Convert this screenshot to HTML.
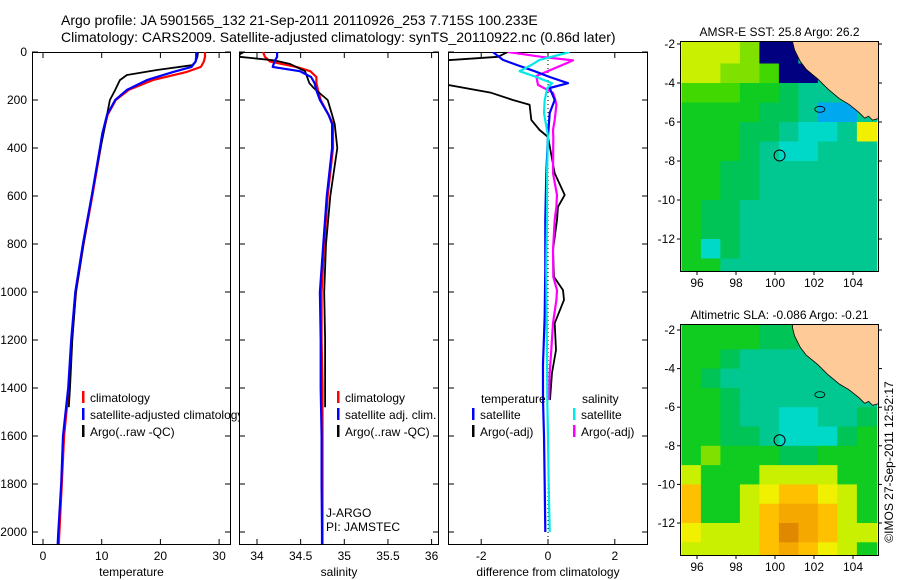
<!DOCTYPE html>
<html><head><meta charset="utf-8">
<style>
body{margin:0;background:#fff;}
svg{display:block;font-family:"Liberation Sans",sans-serif;}
</style></head>
<body>
<svg id="fig" width="900" height="580" viewBox="0 0 900 580" xmlns="http://www.w3.org/2000/svg">
<rect width="900" height="580" fill="#fff"/>
<text x="61" y="25" font-size="14">Argo profile: JA 5901565_132 21-Sep-2011 20110926_253 7.715S 100.233E</text>
<text x="61" y="42" font-size="14">Climatology: CARS2009. Satellite-adjusted climatology: synTS_20110922.nc (0.86d later)</text>
<g id="panels"></g>
<g id="maps"></g>
<text transform="translate(893,462) rotate(-90)" text-anchor="middle" font-size="12">©IMOS 27-Sep-2011 12:52:17</text>
</svg>
<script>
// ---- profile data ----
const tDepthClim = [0,20,40,62,83,117,158,200,262,340,400,600,800,1000,1200,1400,1600,1800,2000,2050];
const tempClim   = [27.6,27.6,27.4,26.9,24.5,18.7,14.6,12.4,11.0,10.2,9.8,8.4,6.9,5.6,4.9,4.4,3.6,3.2,2.8,2.7];
const tempSat    = [26.1,26.1,26.0,25.3,22.2,17.7,14.3,12.3,10.9,10.1,9.7,8.3,6.8,5.5,4.8,4.3,3.4,3.1,2.6,2.5];
const tDepthArgo = [0,20,40,55,75,96,117,158,200,262,340,400,600,800,1000,1200,1400,1480];
const tempArgo   = [26.4,26.3,26.0,25.4,19.4,14.3,13.1,12.3,11.4,10.9,10.3,9.8,8.3,6.9,5.6,5.0,4.6,4.4];

const sDepthClim = [0,20,40,62,80,104,130,160,200,262,300,400,600,800,1000,1200,1400,1600,1800,2000,2050];
const salClim    = [34.07,34.09,34.15,34.45,34.61,34.68,34.68,34.70,34.73,34.82,34.87,34.87,34.81,34.77,34.74,34.74,34.75,34.75,34.75,34.75,34.75];
const salSat     = [34.23,34.23,34.20,34.18,34.49,34.62,34.66,34.68,34.72,34.82,34.86,34.86,34.80,34.76,34.72,34.73,34.73,34.74,34.74,34.745,34.745];
const sDepthArgo = [0,10,20,35,50,80,130,150,200,262,300,400,600,800,1000,1200,1400,1480];
const salArgo    = [33.85,33.8,33.8,34.2,34.38,34.55,34.6,34.65,34.81,34.86,34.89,34.92,34.84,34.79,34.77,34.78,34.78,34.78];

const dDepthSat = [0,33,54,80,104,130,150,200,254,350,505,700,900,1100,1300,1450,1600,1800,2000];
const dTempSat  = [-1.65,-1.35,-0.93,-0.4,0.05,0.6,0.05,0.2,0.05,0.0,-0.05,-0.08,-0.08,-0.1,-0.15,-0.15,-0.12,-0.1,-0.08];
const dSalSat   = [0.65,-0.25,-0.5,-0.85,-0.35,0.12,-0.02,-0.1,-0.12,0.0,-0.03,-0.03,-0.05,-0.04,-0.03,-0.02,0.0,0.02,0.05];
const dDepthArgo = [0,20,35,50,100,137,170,200,220,283,325,354,505,596,645,700,825,937,992,1033,1130,1242,1337,1450];
const dTempArgo  = [-1.2,-1.5,-3.1,-3.2,-3.3,-3.0,-1.7,-1.05,-0.55,-0.5,-0.25,0.0,0.2,0.5,0.3,0.27,0.15,0.18,0.45,0.48,0.2,0.24,0.12,0.06];
const dSalArgo   = [-1.2,-0.2,0.75,0.5,-0.35,-0.3,0.15,0.22,0.25,0.2,0.15,0.16,0.15,0.27,0.25,0.2,0.15,0.16,0.27,0.25,0.15,0.1,0.05,0.03];

const depthTicks = [0,200,400,600,800,1000,1200,1400,1600,1800,2000];
const tempTicks = [0,10,20,30];
const salTicks = [34,34.5,35,35.5,36];
const salTickLabels = ["34","34.5","35","35.5","36"];
const diffTicks = [-2,0,2];

const NS = "http://www.w3.org/2000/svg";
function mk(tag, attrs, parent){ const e=document.createElementNS(NS,tag); for(const k in attrs) e.setAttribute(k,attrs[k]); parent.appendChild(e); return e; }
const panels = document.getElementById('panels');
const yDepth = d => 52 + d*0.24;
const PTOP=52, PBOT=545;

function makePanel(name, x0, x1, xScale, ticks, tickLabels, xlabel){
  const g = mk('g',{},panels);
  
  
  const cp = mk('clipPath',{id:'clip-'+name},g);
  mk('rect',{x:x0,y:PTOP,width:x1-x0,height:PBOT-PTOP},cp);
  const frame = mk('rect',{x:x0+0.5,y:PTOP+0.5,width:x1-x0-1,height:PBOT-PTOP-1,fill:'#fff',stroke:'#000','stroke-width':1},g);
  
  
  depthTicks.forEach(d=>{
    const y=yDepth(d);
    mk('line',{x1:x0,x2:x0+6,y1:y,y2:y,stroke:'#000'},g);
    mk('line',{x1:x1-6,x2:x1,y1:y,y2:y,stroke:'#000'},g);
  });
  ticks.forEach((t,i)=>{
    const x=xScale(t);
    mk('line',{x1:x,x2:x,y1:PBOT,y2:PBOT-6,stroke:'#000'},g);
    mk('line',{x1:x,x2:x,y1:PTOP,y2:PTOP+6,stroke:'#000'},g);
    const tx = mk('text',{x:x,y:PBOT+15,'font-size':12,'text-anchor':'middle'},g);
    tx.textContent = tickLabels[i];
    
    
  });
  const xl = mk('text',{x:(x0+x1)/2,y:576,'font-size':12,'text-anchor':'middle'},g);
  xl.textContent = xlabel;
  
  
  const lines = mk('g',{'clip-path':'url(#clip-'+name+')'},g);
  return {g, lines};
}
function profile(parent, depths, vals, xScale, color, name, width){
  const pts = depths.map((d,i)=>xScale(vals[i]).toFixed(1)+','+yDepth(d).toFixed(1)).join(' ');
  const p = mk('polyline',{points:pts,fill:'none',stroke:color,'stroke-width':width||2.2,'stroke-linejoin':'round'},parent);
  
  
}
function legend(parent, x, y, color, label, name){
  const g = mk('g',{},parent);
  
  
  mk('rect',{x:x,y:y-11,width:2.5,height:12,fill:color},g);
  const t = mk('text',{x:x+8,y:y,'font-size':12},g);
  t.textContent = label;
}

depthTicks.forEach(d=>{
  const t = mk('text',{x:27,y:yDepth(d)+4,'font-size':12,'text-anchor':'end'},panels);
  t.textContent = d;
  
  
});

const xT = v => 43 + v*5.87;
const pT = makePanel('temperature-panel',32,231,xT,tempTicks,tempTicks.map(String),'temperature');
profile(pT.lines,tDepthClim,tempClim,xT,'#ff0000','temperature-climatology-line');
profile(pT.lines,tDepthArgo,tempArgo,xT,'#000000','temperature-argo-line',1.8);
profile(pT.lines,tDepthClim,tempSat,xT,'#0000ff','temperature-satellite-line');
legend(pT.g,82,402,'#ff0000','climatology','legend-climatology');
legend(pT.g,82,419,'#0000ff','satellite-adjusted climatology','legend-satellite-adjusted');
legend(pT.g,82,436,'#000000','Argo(..raw -QC)','legend-argo');

const xS = v => 257 + (v-34)*87.3;
const pS = makePanel('salinity-panel',239,439,xS,salTicks,salTickLabels,'salinity');
profile(pS.lines,sDepthClim,salClim,xS,'#ff0000','salinity-climatology-line');
profile(pS.lines,sDepthArgo,salArgo,xS,'#000000','salinity-argo-line',1.8);
profile(pS.lines,sDepthClim,salSat,xS,'#0000ff','salinity-satellite-line');
legend(pS.g,337,402,'#ff0000','climatology','legend-climatology');
legend(pS.g,337,419,'#0000ff','satellite adj. clim.','legend-satellite-adj');
legend(pS.g,337,436,'#000000','Argo(..raw -QC)','legend-argo');
const ja = mk('text',{x:326,y:517,'font-size':12},pS.g); ja.textContent='J-ARGO';


const pi = mk('text',{x:326,y:531,'font-size':12},pS.g); pi.textContent='PI: JAMSTEC';



const xD = v => 548 + v*33.4;
const pD = makePanel('difference-panel',448,648,xD,diffTicks,diffTicks.map(String),'difference from climatology');
const zl = mk('line',{x1:xD(0),x2:xD(0),y1:PTOP,y2:PBOT,stroke:'#000','stroke-dasharray':'1,3'},pD.lines);


profile(pD.lines,dDepthArgo,dTempArgo,xD,'#000000','diff-temp-argo-line',1.8);
profile(pD.lines,dDepthArgo,dSalArgo,xD,'#ff00ff','diff-sal-argo-line');
profile(pD.lines,dDepthSat,dTempSat,xD,'#0000ff','diff-temp-satellite-line');
profile(pD.lines,dDepthSat,dSalSat,xD,'#00e8e8','diff-sal-satellite-line');
const lt = mk('text',{x:481,y:403,'font-size':12},pD.g); lt.textContent='temperature';


const ls = mk('text',{x:582,y:403,'font-size':12},pD.g); ls.textContent='salinity';


legend(pD.g,472,419,'#0000ff','satellite','legend-temp-satellite');
legend(pD.g,472,436,'#000000','Argo(-adj)','legend-temp-argo');
legend(pD.g,573,419,'#00e8e8','satellite','legend-sal-satellite');
legend(pD.g,573,436,'#ff00ff','Argo(-adj)','legend-sal-argo');

// ---- maps ----
const lonTicks = [96,98,100,102,104];
const latTicks = [-2,-4,-6,-8,-10,-12];
const sstRows = [
 "aaabnntttt","aabbcnnttt","cccgghtttt","gggghhtllt","ggghhtkkty","ggghtkkttt",
 "gghhtttttt","gghhtttttt","ghhttttttt","ghhttttttt","gkhttttttt","ggtttttttt"];
const slaRows = [
 "gggghhtttt","gghttttttt","ghtttttttt","gghttttttt","gghttkktth","gghhtkkkhg",
 "gbggghhggg","agggaaaagg","oggayooyag","oggaoppoag","yaaaoqpoaa","aaaaopoyag"];
const palette = {a:'#c8f000',b:'#80e000',c:'#40d800',g:'#10cc20',h:'#00c455',t:'#00c890',k:'#00d8c8',l:'#00a8f0',n:'#000080',y:'#f0f000',o:'#ffc000',p:'#f5a800',q:'#e08800'};
const landLon = [100.9,101.0,101.3,101.6,102.2,102.7,103.3,103.8,104.3,104.6,104.8,105.0,105.4,105.4];
const landLat = [-1.9,-2.3,-2.9,-3.3,-3.8,-4.3,-4.8,-5.1,-5.5,-5.8,-5.7,-5.9,-5.8,-1.9];
const argoLon = 100.233, argoLat = -7.715;

const mapsG = document.getElementById('maps');
function makeMap(name, top, bottom, latRef, pxDeg, rows, title){
  const x0=681, x1=878;
  const lx = lon => 697 + (lon-96)*19.5;
  const ly = lat => latRef - (lat+2)*pxDeg;
  const g = mk('g',{},mapsG);
  
  
  const cp = mk('clipPath',{id:'clip-'+name},g);
  mk('rect',{x:x0,y:top,width:x1-x0,height:bottom-top},cp);
  const inner = mk('g',{'clip-path':'url(#clip-'+name+')'},g);
  rows.forEach((r,i)=>{
    for(let j=0;j<r.length;j++){
      const lonA = 95.2+j, latA = -2-i;
      const yTop = i===0 ? top : ly(latA);
      const c = mk('rect',{x:lx(lonA),y:yTop,width:20.5,height:ly(latA-1)-yTop+1,fill:palette[r[j]]},inner);
      
      
    }
  });
  const pts = landLon.map((lo,i)=>lx(lo).toFixed(1)+','+ly(landLat[i]).toFixed(1)).join(' ');
  const land = mk('polygon',{points:pts+' '+lx(105.4)+','+(top-5)+' '+lx(100.9)+','+(top-5),fill:'#fecb98',stroke:'#000','stroke-width':0.8},inner);
  
  
  const isl = mk('ellipse',{cx:lx(102.3),cy:ly(-5.35),rx:5,ry:3,fill:'none',stroke:'#000','stroke-width':0.8},inner);
  
  
  const mark = mk('circle',{cx:lx(argoLon),cy:ly(argoLat),r:5.5,fill:'none',stroke:'#000','stroke-width':1},inner);
  
  
  mk('rect',{x:x0-0.5,y:top-0.5,width:x1-x0+1,height:bottom-top+1,fill:'none',stroke:'#000'},g);
  lonTicks.forEach(lo=>{
    const x=lx(lo);
    mk('line',{x1:x,x2:x,y1:bottom,y2:bottom+4,stroke:'#000'},g);
    const t=mk('text',{x:x,y:bottom+16,'font-size':12,'text-anchor':'middle'},g); t.textContent=lo;
    
    
  });
  latTicks.forEach(la=>{
    const y=ly(la);
    mk('line',{x1:x0-4,x2:x0,y1:y,y2:y,stroke:'#000'},g);
    mk('line',{x1:x1,x2:x1+4,y1:y,y2:y,stroke:'#000'},g);
    const t=mk('text',{x:x0-6,y:y+4,'font-size':12,'text-anchor':'end'},g); t.textContent=la;
    
    
  });
  const tt=mk('text',{x:(x0+x1)/2,y:top-6,'font-size':12,'text-anchor':'middle'},g); tt.textContent=title;
  
  
}
makeMap('sst-map',42,271,44,19.5,sstRows,'AMSR-E SST: 25.8 Argo: 26.2');
makeMap('sla-map',325,555,330,19.3,slaRows,'Altimetric SLA: -0.086 Argo: -0.21');
</script>
</body></html>
